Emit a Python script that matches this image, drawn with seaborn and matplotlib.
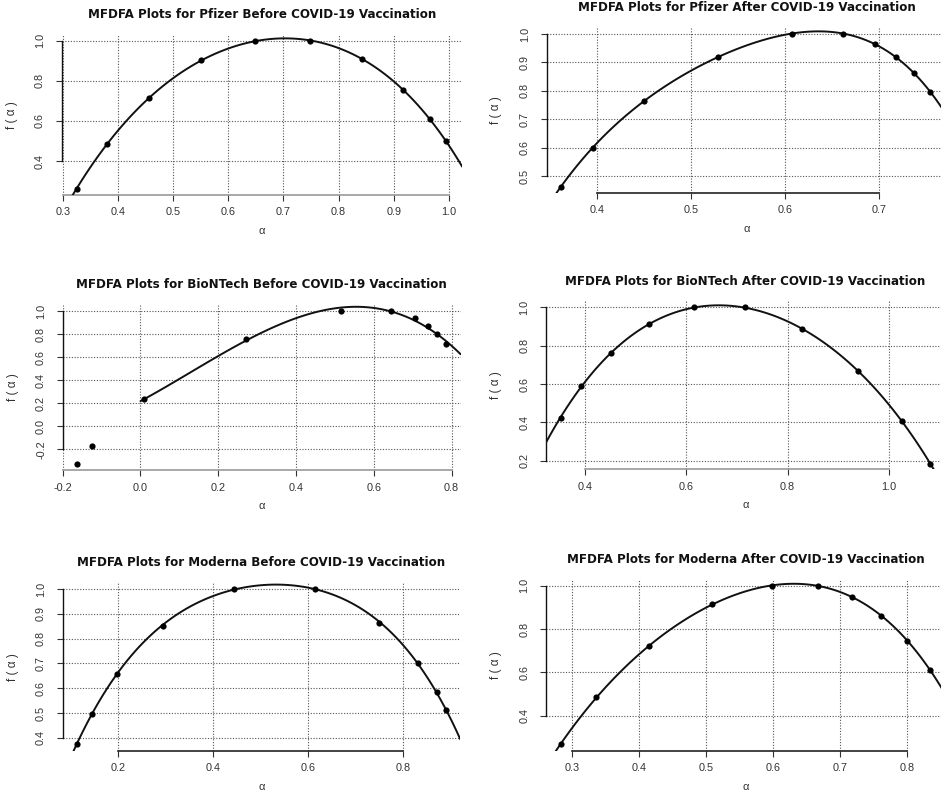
import numpy as np
import pandas as pd
import matplotlib
matplotlib.use("Agg")
import matplotlib.pyplot as plt
import seaborn as sns

sns.set_theme(style="ticks")
plt.rcParams['font.family'] = ['Liberation Sans', 'DejaVu Sans']

# ---------------- data ----------------
titles = [
    "MFDFA Plots for Pfizer Before COVID-19 Vaccination",
    "MFDFA Plots for Pfizer After COVID-19 Vaccination",
    "MFDFA Plots for BioNTech Before COVID-19 Vaccination",
    "MFDFA Plots for BioNTech After COVID-19 Vaccination",
    "MFDFA Plots for Moderna Before COVID-19 Vaccination",
    "MFDFA Plots for Moderna After COVID-19 Vaccination",
]

pfizer_before_alpha = [0.325, 0.380, 0.456, 0.551, 0.649, 0.748, 0.842, 0.917, 0.966, 0.994]
pfizer_before_f = [0.262, 0.483, 0.712, 0.902, 1.0, 1.0, 0.907, 0.756, 0.609, 0.498]

pfizer_after_alpha = [0.361, 0.395, 0.450, 0.528, 0.607, 0.661, 0.695, 0.718, 0.737, 0.754]
pfizer_after_f = [0.462, 0.597, 0.765, 0.920, 1.0, 1.0, 0.966, 0.920, 0.862, 0.796]

biontech_before_alpha = [-0.163, -0.124, 0.010, 0.270, 0.515, 0.645, 0.705, 0.740, 0.763, 0.785]
biontech_before_f = [-0.327, -0.171, 0.234, 0.754, 1.0, 1.0, 0.939, 0.870, 0.798, 0.714]

biontech_after_alpha = [0.351, 0.392, 0.451, 0.526, 0.615, 0.716, 0.829, 0.939, 1.027, 1.082]
biontech_after_f = [0.424, 0.590, 0.760, 0.911, 1.0, 1.0, 0.887, 0.666, 0.407, 0.184]

moderna_before_alpha = [0.114, 0.145, 0.198, 0.295, 0.445, 0.615, 0.751, 0.832, 0.872, 0.891]
moderna_before_f = [0.375, 0.495, 0.659, 0.852, 1.0, 1.0, 0.864, 0.702, 0.584, 0.511]

moderna_after_alpha = [0.283, 0.336, 0.414, 0.509, 0.598, 0.667, 0.718, 0.761, 0.800, 0.834]
moderna_after_f = [0.271, 0.485, 0.720, 0.914, 1.0, 1.0, 0.948, 0.860, 0.746, 0.611]

# tick values
p1_xticks = [0.3, 0.4, 0.5, 0.6, 0.7, 0.8, 0.9, 1.0]
p1_yticks = [0.4, 0.6, 0.8, 1.0]
p2_xticks = [0.4, 0.5, 0.6, 0.7]
p2_yticks = [0.5, 0.6, 0.7, 0.8, 0.9, 1.0]
p3_xticks = [-0.2, 0.0, 0.2, 0.4, 0.6, 0.8]
p3_yticks = [-0.2, 0.0, 0.2, 0.4, 0.6, 0.8, 1.0]
p4_xticks = [0.4, 0.6, 0.8, 1.0]
p4_yticks = [0.2, 0.4, 0.6, 0.8, 1.0]
p5_xticks = [0.2, 0.4, 0.6, 0.8]
p5_yticks = [0.4, 0.5, 0.6, 0.7, 0.8, 0.9, 1.0]
p6_xticks = [0.3, 0.4, 0.5, 0.6, 0.7, 0.8]
p6_yticks = [0.4, 0.6, 0.8, 1.0]


def fmt(v):
    return f"{v:.1f}".replace("\u2212", "-")


# ---------------- layout (pixel boxes: left, right, top, bottom) ----------------
W, H = 941, 794
panels = [
    dict(alpha=pfizer_before_alpha, f=pfizer_before_f, box=(61.6, 462.3, 34.7, 194.5),
         xlim=(0.298, 1.024), ylim=(0.233, 1.03), xt=p1_xticks, yt=p1_yticks,
         fit_from=None, order=4, bcol="#9a9a9a"),
    dict(alpha=pfizer_after_alpha, f=pfizer_after_f, box=(546.5, 947.9, 27.9, 192.6),
         xlim=(0.346, 0.773), ylim=(0.4415, 1.0215), xt=p2_xticks, yt=p2_yticks,
         fit_from=None, order=4, bcol="#222222"),
    dict(alpha=biontech_before_alpha, f=biontech_before_f, box=(62.7, 460.6, 304.9, 470.1),
         xlim=(-0.2, 0.823), ylim=(-0.38, 1.053), xt=p3_xticks, yt=p3_yticks,
         fit_from=0.0, order=3, bcol="#9a9a9a"),
    dict(alpha=biontech_after_alpha, f=biontech_after_f, box=(546.1, 944.8, 301.1, 469.3),
         xlim=(0.3225, 1.111), ylim=(0.155, 1.0326), xt=p4_xticks, yt=p4_yticks,
         fit_from=None, order=4, bcol="#9a9a9a"),
    dict(alpha=moderna_before_alpha, f=moderna_before_f, box=(62.7, 460.4, 582.8, 750.5),
         xlim=(0.0842, 0.9215), ylim=(0.3495, 1.025), xt=p5_xticks, yt=p5_yticks,
         fit_from=None, order=4, bcol="#222222"),
    dict(alpha=moderna_after_alpha, f=moderna_after_f, box=(546.3, 944.7, 579.4, 750.5),
         xlim=(0.2612, 0.8558), ylim=(0.2395, 1.029), xt=p6_xticks, yt=p6_yticks,
         fit_from=None, order=4, bcol="#222222"),
]

fig = plt.figure(figsize=(W / 100, H / 100), dpi=100)
fig.patch.set_facecolor("white")

for title, p in zip(titles, panels):
    l, r, t, b = p["box"]
    ax = fig.add_axes([l / W, (H - b) / H, (r - l) / W, (b - t) / H])
    ax.set_facecolor("white")
    df = pd.DataFrame({"alpha": p["alpha"], "f": p["f"]})

    # fitted curve
    if p["fit_from"] is None:
        dfit = df
        ax.set_xlim(p["xlim"])
    else:
        dfit = df[df["alpha"] >= p["fit_from"]]
        ax.set_xlim(p["fit_from"], p["xlim"][1])
    sns.regplot(data=dfit, x="alpha", y="f", order=p["order"], ci=None, truncate=False,
                scatter=False, ax=ax, line_kws=dict(color="#111111", lw=1.4, zorder=3))
    # points
    sns.scatterplot(data=df, x="alpha", y="f", color="black", s=20, linewidth=0,
                    ax=ax, zorder=4)

    ax.set_xlim(p["xlim"])
    ax.set_ylim(p["ylim"])
    ax.set_xticks(p["xt"])
    ax.set_yticks(p["yt"])
    ax.set_xticklabels([fmt(v) for v in p["xt"]])
    ax.set_yticklabels([fmt(v) for v in p["yt"]], rotation=90, va="center")
    ax.tick_params(axis="both", direction="out", length=4, width=0.8,
                   labelsize=7.8, labelcolor="#333333", color="#333333")
    ax.tick_params(axis="x", pad=5)
    ax.tick_params(axis="y", pad=8)

    ax.grid(True, color="#555555", linestyle=(0, (1, 1.5)), linewidth=0.8)
    ax.set_axisbelow(True)

    for s in ("top", "right"):
        ax.spines[s].set_visible(False)
    ax.spines["left"].set_bounds(p["yt"][0], p["yt"][-1])
    ax.spines["left"].set_color("#111111")
    ax.spines["left"].set_linewidth(1.0)
    ax.spines["bottom"].set_bounds(p["xt"][0], p["xt"][-1])
    ax.spines["bottom"].set_color(p["bcol"])
    ax.spines["bottom"].set_linewidth(1.2)

    hpx = b - t
    wpx = r - l
    ax.set_xlabel("α", fontsize=8, color="#333333")
    ax.xaxis.set_label_coords(0.5, -36 / hpx)
    ax.xaxis.label.set_va("center")
    ax.set_ylabel("f ( α )", fontsize=8.5, color="#333333")
    ax.yaxis.set_label_coords(-50 / wpx, 0.5)
    ax.yaxis.label.set_va("center")

    fig.text((l + r) / 2 / W, (H - (t - 20)) / H, title, ha="center", va="center",
             fontsize=8.6, fontweight="bold", family="DejaVu Sans", color="#111111")

fig.savefig("out.png", dpi=100, facecolor="white")
